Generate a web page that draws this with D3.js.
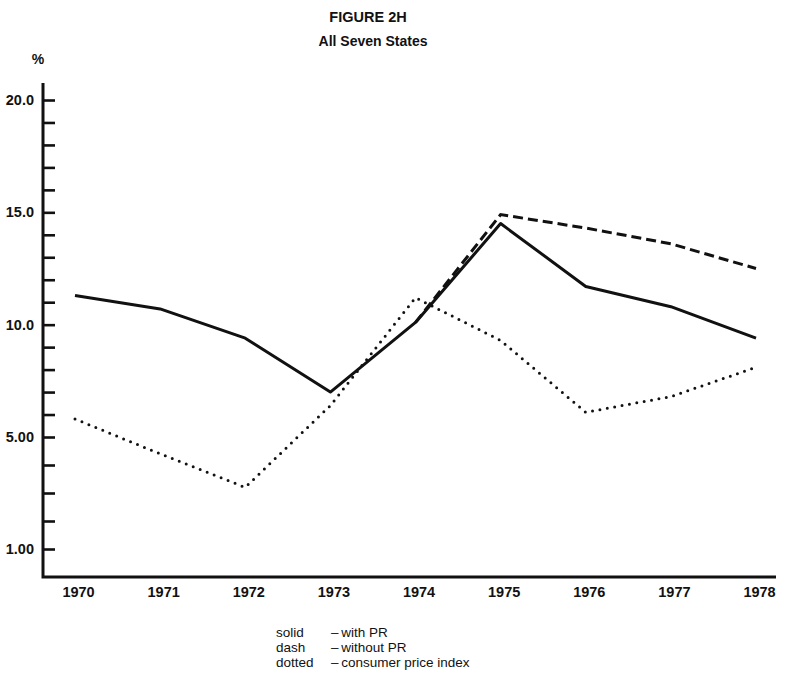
<!DOCTYPE html>
<html>
<head>
<meta charset="utf-8">
<script src="https://cdn.jsdelivr.net/npm/d3@7"></script>
<style>
  body { margin: 0; background: #fff; }
  text { font-family: "Liberation Sans", Arial, sans-serif; fill: #111; }
</style>
</head>
<body>
<div id="chart"></div>
<script>
// data
var years = [1970, 1971, 1972, 1973, 1974, 1975, 1976, 1977, 1978];
var withPR = [11.3, 10.7, 9.4, 7.0, 10.1, 14.5, 11.7, 10.8, 9.4];
var withoutPRYears = [1974, 1975, 1976, 1977, 1978];
var withoutPR = [10.1, 14.9, 14.3, 13.6, 12.5];
var cpi = [5.8, 4.4, 3.2, 6.4, 11.2, 9.3, 6.1, 6.8, 8.1];
var yTickValues = d3.range(1, 21);
var yLabels = {1: "1.00", 5: "5.00", 10: "10.0", 15: "15.0", 20: "20.0"};
var legendKeys = ["solid", "dash", "dotted"];
var legendText = ["\u2013\u2009with PR", "\u2013\u2009without PR", "\u2013\u2009consumer price index"];

var w = 785, h = 677,
    axisX = 43, axisY = 577, axisTop = 83, axisRight = 776;

// the y scale is broken below 5.00
var x = d3.scaleLinear().domain([1970, 1978]).range([75, 756]),
    y = d3.scaleLinear().domain([1, 5, 20]).range([549, 437, 100]);

var svg = d3.select("#chart").append("svg")
    .attr("width", w)
    .attr("height", h);

svg.append("text")
    .attr("x", 368).attr("y", 22)
    .attr("text-anchor", "middle")
    .style("font-weight", "bold").style("font-size", "14.5px")
    .text("FIGURE 2H");

svg.append("text")
    .attr("x", 373).attr("y", 46)
    .attr("text-anchor", "middle")
    .style("font-weight", "bold").style("font-size", "14px")
    .text("All Seven States");

svg.append("text")
    .attr("x", 38).attr("y", 64)
    .attr("text-anchor", "middle")
    .style("font-weight", "bold").style("font-size", "14px")
    .text("%");

// y axis
var yAxis = svg.append("g")
    .attr("transform", "translate(" + axisX + ",0)")
    .call(d3.axisLeft(y)
      .tickValues(yTickValues)
      .tickSizeInner(-12)
      .tickSizeOuter(0)
      .tickPadding(9)
      .tickFormat(function(d) { return yLabels[d] || ""; }));
yAxis.select(".domain").remove();
yAxis.selectAll(".tick line").attr("stroke", "#111").attr("stroke-width", 2.6);
yAxis.selectAll(".tick text")
    .style("font-weight", "bold").style("font-size", "14.5px")
    .style("font-family", "'Liberation Sans', Arial, sans-serif")
    .attr("fill", "#111");

// axis frame lines
svg.append("path")
    .attr("d", "M" + axisX + "," + axisTop + "V" + axisY + "H" + axisRight)
    .attr("fill", "none")
    .attr("stroke", "#111")
    .attr("stroke-width", 3);

// x axis labels
var xAxis = svg.append("g")
    .attr("transform", "translate(3," + axisY + ")")
    .call(d3.axisBottom(x)
      .tickValues(years)
      .tickSize(0)
      .tickPadding(10)
      .tickFormat(d3.format("d")));
xAxis.select(".domain").remove();
xAxis.selectAll(".tick text")
    .style("font-weight", "bold").style("font-size", "14.5px")
    .style("font-family", "'Liberation Sans', Arial, sans-serif")
    .attr("fill", "#111");

var line = d3.line()
    .x(function(d) { return x(d[0]); })
    .y(function(d) { return y(d[1]); });

svg.append("path")
    .attr("class", "cpi")
    .attr("d", line(d3.zip(years, cpi)))
    .attr("fill", "none")
    .attr("stroke", "#111")
    .attr("stroke-width", 3)
    .attr("stroke-linecap", "round")
    .attr("stroke-dasharray", "0,7.5");

svg.append("path")
    .attr("class", "without")
    .attr("d", line(d3.zip(withoutPRYears, withoutPR)))
    .attr("fill", "none")
    .attr("stroke", "#111")
    .attr("stroke-width", 3)
    .attr("stroke-dasharray", "10,5");

svg.append("path")
    .attr("class", "with")
    .attr("d", line(d3.zip(years, withPR)))
    .attr("fill", "none")
    .attr("stroke", "#111")
    .attr("stroke-width", 3)
    .attr("stroke-linejoin", "round");

// legend
var legendY = [637, 652, 667];
var leg = svg.append("g");
leg.selectAll("text.key")
    .data(legendKeys)
  .enter().append("text")
    .attr("class", "key")
    .attr("x", 276)
    .attr("y", function(d, i) { return legendY[i]; })
    .style("font-size", "13.5px")
    .text(function(d) { return d; });
leg.selectAll("text.desc")
    .data(legendText)
  .enter().append("text")
    .attr("class", "desc")
    .attr("x", 331)
    .attr("y", function(d, i) { return legendY[i]; })
    .style("font-size", "13.5px")
    .text(function(d) { return d; });
</script>
</body>
</html>
